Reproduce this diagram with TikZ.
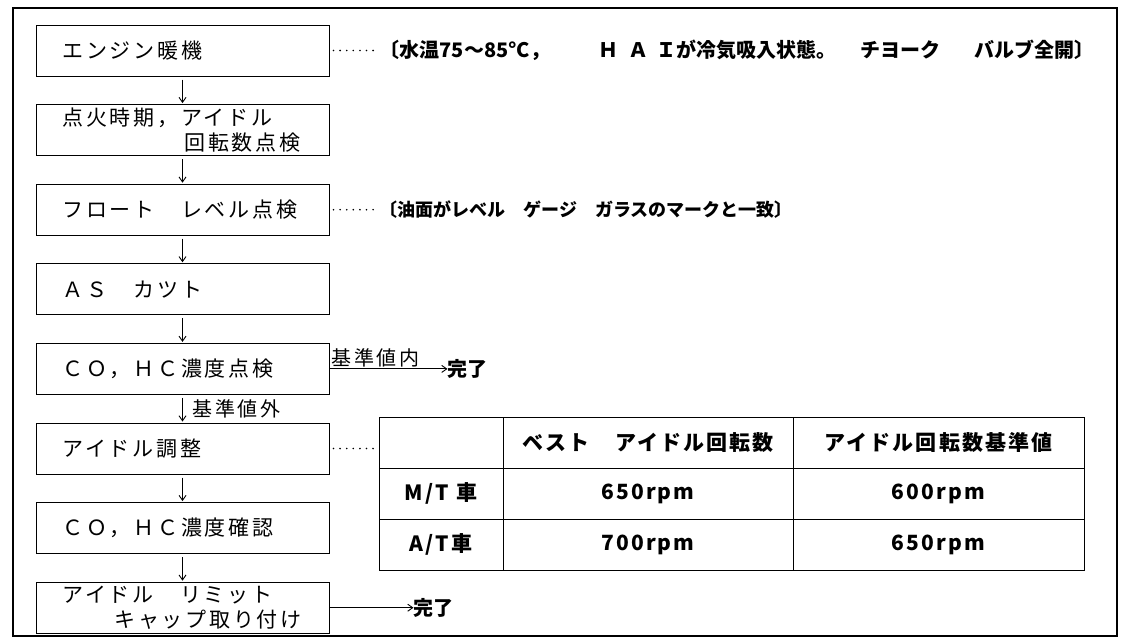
\documentclass[tikz,border=0pt]{standalone}
\usepackage{fontspec}
\usepackage{tikz}
\usetikzlibrary{positioning,arrows.meta}

\newfontfamily\boxfont[LetterSpace=13]{Noto Sans CJK JP}
\newfontfamily\notefont{Noto Sans CJK JP}
\newfontfamily\cellfont[LetterSpace=10]{Noto Sans CJK JP}

\tikzset{
  stepbox/.style={draw, line width=1pt, text width=240pt, inner xsep=26.5pt, inner ysep=2pt,
    minimum height=51pt, align=left, font=\boxfont\fontsize{21}{25}\selectfont},
  flow/.style={-{Straight Barb[length=5pt,width=7pt]}, line width=0.9pt},
  dotline/.style={line width=1.8pt, line cap=round, dash pattern=on 0pt off 6.6pt},
  note/.style={anchor=west, inner sep=0pt, font=\notefont\bfseries\fontsize{20}{24}\selectfont},
  tag/.style={inner sep=1.5pt, font=\boxfont\fontsize{20}{24}\selectfont},
  cell/.style={font=\cellfont\bfseries\fontsize{21}{25}\selectfont},
}

\begin{document}
\begin{tikzpicture}[x=1pt, y=-1pt, node distance=27.6pt]
    \useasboundingbox (0,0) rectangle (1123,640);
    \draw[line width=1.6pt] (13,8) rectangle (1117,636);

    % steps
    \node[stepbox] (engine) at (182.5,50.5) {エンジン暖機};
    \node[stepbox, below=of engine] (timing) {点火時期，アイドル\\\hspace*{122pt}回転数点検};
    \node[stepbox, below=of timing] (float) {フロート　レベル点検};
    \node[stepbox, below=of float] (ascut) {ＡＳ　カツト};
    \node[stepbox, below=of ascut] (check) {ＣＯ，ＨＣ濃度点検};
    \node[stepbox, below=of check] (idle) {アイドル調整};
    \node[stepbox, below=of idle] (confirm) {ＣＯ，ＨＣ濃度確認};
    \node[stepbox, below=of confirm] (cap) {アイドル　リミット\\\hspace*{52pt}キャップ取り付け};

    \foreach \a/\b in {engine/timing, timing/float, float/ascut, ascut/check, idle/confirm, confirm/cap}
        \draw[flow, shorten <=3pt, shorten >=1pt] (\a) -- (\b);
    \draw[flow, shorten <=3pt, shorten >=1pt] (check) -- node[tag, right=8pt] {基準値外} (idle);

    % notes
    \node[note, right=50pt of engine] (noteA) {〔水温75～85°C，\hspace{2.4em}Ｈ\hspace{.5em}Ａ\hspace{.4em}Ｉが冷気吸入状態。\hspace{1.2em}チヨーク\hspace{1.7em}バルブ全開〕};
    \node[note, font=\notefont\bfseries\fontsize{18}{22}\selectfont, right=50pt of float] (noteB) {〔油面がレベル\hspace{1em}ゲージ\hspace{1em}ガラスのマークと一致〕};
    \draw[dotline, shorten <=4pt, shorten >=4pt] (engine.east) -- (noteA.west);
    \draw[dotline, shorten <=4pt, shorten >=4pt] (float.east) -- (noteB.west);

    % finish
    \node[note, right=118pt of check] (doneA) {完了};
    \node[note, right=84pt of cap] (doneB) {完了};
    \draw[flow] (check.east) -- node[tag, pos=0, above right] {基準値内} (doneA);
    \draw[flow] (cap.east) -- (doneB);

    % rpm table
    \node[draw, line width=1pt, anchor=north west, minimum width=705pt, minimum height=153pt, inner sep=0pt] (rpmtable) at (379,417) {};
    \foreach \x in {503,793} \draw[line width=1pt] (\x,417) -- (\x,570);
    \foreach \y in {468,519} \draw[line width=1pt] (379,\y) -- (1084,\y);
    \node[cell] (bestH) at (648,442.5) {ベスト　アイドル回転数};
    \node[cell] (stdH) at (938.5,442.5) {アイドル回転数基準値};
    \node[cell] (mt) at (441,493.5) {M/T 車};
    \node[cell] (mtbest) at (648,493.5) {650rpm};
    \node[cell] (mtstd) at (938.5,493.5) {600rpm};
    \node[cell] (at) at (441,544.5) {A/T車};
    \node[cell] (atbest) at (648,544.5) {700rpm};
    \node[cell] (atstd) at (938.5,544.5) {650rpm};
    \draw[dotline, shorten <=4pt, shorten >=3pt] (idle.east) -- (idle.east -| rpmtable.west);
\end{tikzpicture}
\end{document}
